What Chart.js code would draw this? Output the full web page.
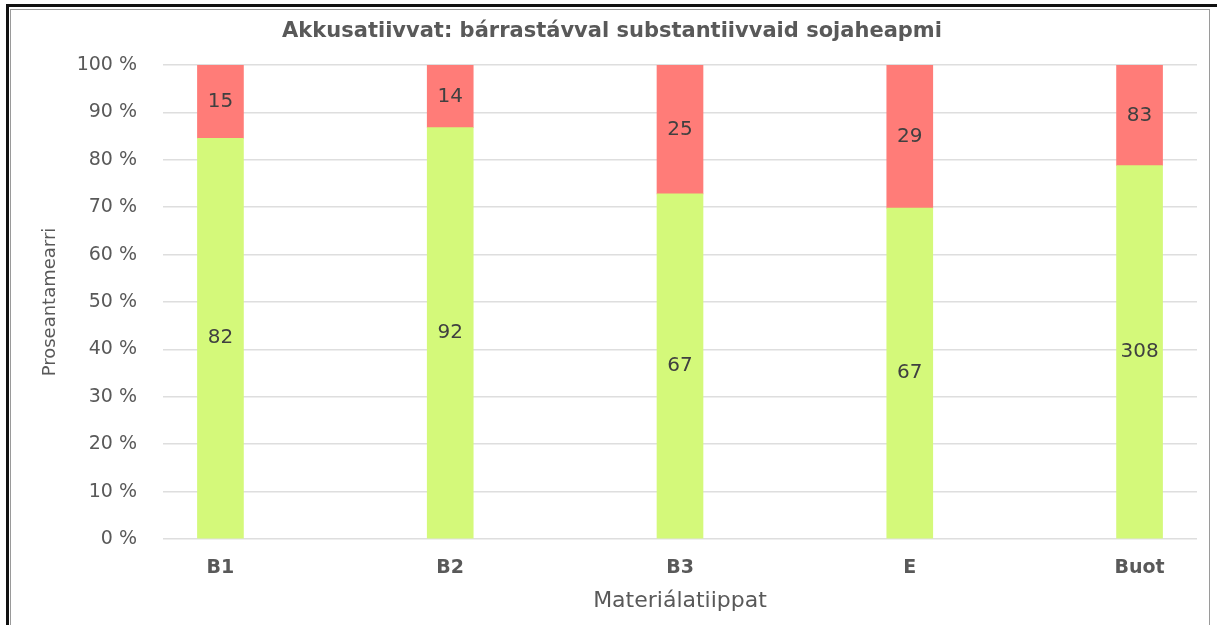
<!DOCTYPE html>
<html>
<head>
<meta charset="utf-8">
<script src="https://cdn.jsdelivr.net/npm/chart.js@4/dist/chart.umd.min.js"></script>
<style>
  html, body { margin: 0; padding: 0; background: #fff; }
  #wrap { position: relative; width: 1217px; height: 625px; overflow: hidden; }
  #frameOuter { position: absolute; left: 6px; top: 4px; width: 1240px; height: 700px;
    border-left: 3px solid #111; border-top: 3px solid #111; pointer-events: none; }
  #frameInner { position: absolute; left: 10px; top: 9px; width: 1198px; height: 700px;
    border: 1px solid #9a9a9a; pointer-events: none; }
</style>
</head>
<body>
<div id="wrap">
  <canvas id="chart" width="1217" height="625"></canvas>
  <div id="frameOuter"></div>
  <div id="frameInner"></div>
</div>
<script>
// DATA
const categories = ["B1", "B2", "B3", "E", "Buot"];
const correctCounts = [82, 92, 67, 67, 308];
const wrongCounts = [15, 14, 25, 29, 83];
const yTickValues = [0, 10, 20, 30, 40, 50, 60, 70, 80, 90, 100];
const chartTitle = "Akkusatiivvat: bárrastávval substantiivvaid sojaheapmi";

const FONT = "'DejaVu Sans', sans-serif";
const GREY = "#595959";

// 100 % stacked shares from the counts
function shares(counts) {
    return categories.map((c, i) => ({
        x: i,
        y: counts[i] / (correctCounts[i] + wrongCounts[i]) * 100,
        n: counts[i]
    }));
}

// LABELS INSIDE BARS + TITLE
const barLabels = {
    id: "barLabels",
    afterDatasetsDraw(chart) {
        const c = chart.ctx;
        c.save();
        c.font = "20px " + FONT;
        c.fillStyle = "#404040";
        c.textAlign = "center";
        c.textBaseline = "middle";
        chart.data.datasets.forEach((ds, di) => {
            chart.getDatasetMeta(di).data.forEach((bar, i) => {
                const p = bar.getProps(["x", "y", "base"], true);
                c.fillText(String(ds.data[i].n), p.x, (p.y + p.base) / 2);
            });
        });
        // title, centred on the whole frame
        c.font = "bold 21px " + FONT;
        c.fillStyle = GREY;
        c.fillText(chartTitle, 612, 32);
        c.restore();
    }
};

new Chart(document.getElementById("chart"), {
    type: "bar",
    data: {
        datasets: [
            { label: "correct", data: shares(correctCounts), backgroundColor: "#d4f97a", barThickness: 46 },
            { label: "wrong", data: shares(wrongCounts), backgroundColor: "#ff7c78", barThickness: 46 }
        ]
    },
    options: {
        responsive: false,
        animation: false,
        layout: { padding: { left: 0, right: 20, top: 65, bottom: 0 } },
        plugins: {
            legend: { display: false },
            tooltip: { enabled: false },
            title: { display: false }
        },
        scales: {
            x: {
                type: "linear",
                stacked: true,
                offset: false,
                min: -0.25,
                max: 4.25,
                afterBuildTicks: s => { s.ticks = categories.map((c, i) => ({ value: i })); },
                afterFit: s => { s.height = 86; },
                grid: { display: false, drawTicks: false },
                border: { display: false },
                ticks: {
                    callback: v => categories[v],
                    color: GREY,
                    padding: 18,
                    font: { family: FONT, size: 19, weight: "bold" }
                },
                title: {
                    display: true,
                    text: "Materiálatiippat",
                    color: GREY,
                    font: { family: FONT, size: 22 },
                    padding: { top: 11, bottom: 11 }
                }
            },
            y: {
                stacked: true,
                min: 0,
                max: 100,
                afterBuildTicks: s => { s.ticks = yTickValues.map(v => ({ value: v })); },
                afterFit: s => { s.width = 163; },
                grid: { color: "#dedede", lineWidth: 1.5, drawTicks: false },
                border: { display: false },
                ticks: {
                    callback: v => v + " %",
                    color: GREY,
                    padding: 26,
                    font: { family: FONT, size: 19 }
                },
                title: {
                    display: true,
                    text: "Proseantamearri",
                    color: GREY,
                    font: { family: FONT, size: 18 },
                    padding: { top: 40, bottom: 40 }
                }
            }
        }
    },
    plugins: [barLabels]
});
</script>
</body>
</html>
